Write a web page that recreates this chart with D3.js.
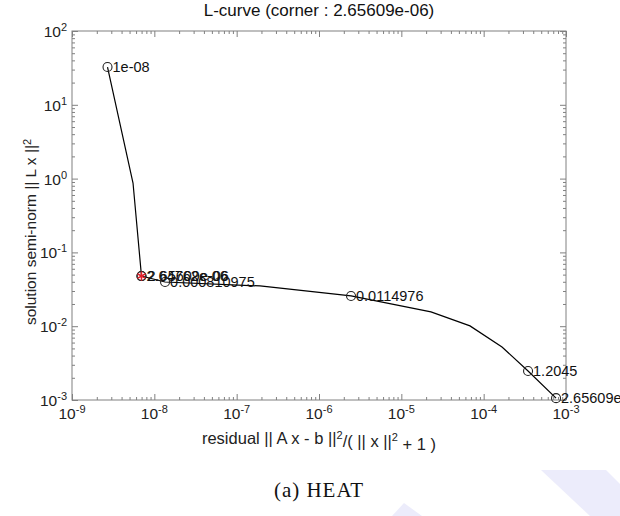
<!DOCTYPE html>
<html>
<head>
<meta charset="utf-8">
<script src="https://cdn.jsdelivr.net/npm/d3@7"></script>
<style>
  body { margin: 0; background: #fff; }
  svg { display: block; }
</style>
</head>
<body>
<script>
// L-curve points (residual vs semi-norm)
var residual = [2.70e-9, 5.51e-9, 6.98e-9, 1.35e-8, 1.92e-7, 2.45e-6, 2.29e-5, 6.82e-5, 1.67e-4, 3.46e-4, 7.57e-4];
var seminorm = [32.5, 0.87, 0.0478, 0.0397, 0.0351, 0.0257, 0.0156, 0.0101, 0.00523, 0.00247, 0.00106];

// which points get a circle + label
var labelIndex = [0, 2, 2, 3, 5, 9, 10];
var labelText = ["1e-08", "2.64762e-06", "2.65609e-06", "0.000810975", "0.0114976", "1.2045", "2.65609e+01"];
var cornerIndex = 2;

var xDecades = [-9, -8, -7, -6, -5, -4, -3];
var yDecades = [-3, -2, -1, 0, 1, 2];

var titleText = "L-curve (corner : 2.65609e-06)";
var captionText = "(a) HEAT";

var width = 620, height = 516;
var mLeft = 72, mRight = 566, mTop = 31, mBottom = 400;
var axisColor = "#808080";
var font = "'Liberation Sans', Arial, sans-serif";

var svg = d3.select("body").append("svg")
  .attr("width", width)
  .attr("height", height);

// faint page background shapes
svg.append("path")
  .attr("d", "M541,470 L606,470 L620,484 L620,516 L590,516 Z")
  .attr("fill", "#ececfb");
svg.append("path")
  .attr("d", "M392,516 L404,503 L422,516 Z")
  .attr("fill", "#ececfb");

var x = d3.scaleLog().domain([1e-9, 1e-3]).range([mLeft, mRight]);
var y = d3.scaleLog().domain([1e-3, 1e2]).range([mBottom, mTop]);

function isDecade(t) { return Math.abs(Math.log10(t) - Math.round(Math.log10(t))) < 1e-6; }
var xMajor = xDecades.map(function(p) { return Math.pow(10, p); });
var yMajor = yDecades.map(function(p) { return Math.pow(10, p); });
var xMinor = x.ticks().filter(function(t) { return !isDecade(t); });
var yMinor = y.ticks().filter(function(t) { return !isDecade(t); });

function tickAxis(axis, transform, size, values) {
  var g = svg.append("g")
    .attr("transform", transform)
    .call(axis.tickValues(values).tickSize(size).tickFormat(""));
  g.select(".domain").remove();
  g.selectAll(".tick line").attr("stroke", axisColor);
  return g;
}

// minor ticks, all four sides
tickAxis(d3.axisBottom(x), "translate(0," + mBottom + ")", -3, xMinor);
tickAxis(d3.axisTop(x), "translate(0," + mTop + ")", -3, xMinor);
tickAxis(d3.axisLeft(y), "translate(" + mLeft + ",0)", -3, yMinor);
tickAxis(d3.axisRight(y), "translate(" + mRight + ",0)", -3, yMinor);
// major ticks
tickAxis(d3.axisBottom(x), "translate(0," + mBottom + ")", -6, xMajor);
tickAxis(d3.axisTop(x), "translate(0," + mTop + ")", -6, xMajor);
tickAxis(d3.axisLeft(y), "translate(" + mLeft + ",0)", -6, yMajor);
tickAxis(d3.axisRight(y), "translate(" + mRight + ",0)", -6, yMajor);

// box
svg.append("rect")
  .attr("x", mLeft).attr("y", mTop)
  .attr("width", mRight - mLeft).attr("height", mBottom - mTop)
  .attr("fill", "none")
  .attr("stroke", axisColor);

// tick labels 10^p
function powerLabel(sel, p) {
  sel.append("tspan").text("10");
  sel.append("tspan").attr("dy", "-0.55em").attr("font-size", "11px").text(p);
}

svg.append("g").selectAll("text").data(xDecades).enter()
  .append("text")
  .attr("x", function(p) { return x(Math.pow(10, p)); })
  .attr("y", mBottom + 19)
  .attr("text-anchor", "middle")
  .attr("font-family", font).attr("font-size", "15.5px").attr("fill", "#222")
  .each(function(p) { powerLabel(d3.select(this), p); });

svg.append("g").selectAll("text").data(yDecades).enter()
  .append("text")
  .attr("x", mLeft - 5)
  .attr("y", function(p) { return y(Math.pow(10, p)) + 6; })
  .attr("text-anchor", "end")
  .attr("font-family", font).attr("font-size", "15.5px").attr("fill", "#222")
  .each(function(p) { powerLabel(d3.select(this), p); });

// title
svg.append("text")
  .attr("x", (mLeft + mRight) / 2).attr("y", 16)
  .attr("text-anchor", "middle")
  .attr("font-family", font).attr("font-size", "17px").attr("fill", "#111")
  .text(titleText);

// x label
var xl = svg.append("text")
  .attr("x", (mLeft + mRight) / 2).attr("y", mBottom + 44)
  .attr("text-anchor", "middle")
  .attr("font-family", font).attr("font-size", "16.5px").attr("fill", "#222");
xl.append("tspan").text("residual || A x - b ||");
xl.append("tspan").attr("dy", "-0.5em").attr("font-size", "11px").text("2");
xl.append("tspan").attr("dy", "0.5em").text("/( || x ||");
xl.append("tspan").attr("dy", "-0.5em").attr("font-size", "11px").text("2");
xl.append("tspan").attr("dy", "0.5em").text(" + 1 )");

// y label
var yl = svg.append("text")
  .attr("transform", "translate(36,232) rotate(-90)")
  .attr("text-anchor", "middle")
  .attr("font-family", font).attr("font-size", "15.5px").attr("fill", "#222");
yl.append("tspan").text("solution semi-norm || L x ||");
yl.append("tspan").attr("dy", "-0.5em").attr("font-size", "11px").text("2");

// curve
var line = d3.line()
  .x(function(i) { return x(residual[i]); })
  .y(function(i) { return y(seminorm[i]); });

svg.append("path")
  .attr("d", line(d3.range(residual.length)))
  .attr("fill", "none")
  .attr("stroke", "#000")
  .attr("stroke-width", 1.2);

// circles + labels
svg.append("g").selectAll("circle").data(labelIndex).enter()
  .append("circle")
  .attr("cx", function(i) { return x(residual[i]); })
  .attr("cy", function(i) { return y(seminorm[i]); })
  .attr("r", 4.5)
  .attr("fill", "none")
  .attr("stroke", "#222")
  .attr("stroke-width", 1.1);

svg.append("g").selectAll("text").data(labelIndex).enter()
  .append("text")
  .attr("x", function(i, k) { return x(residual[i]) + 5 + (k == 2 ? 1 : 0); })
  .attr("y", function(i) { return y(seminorm[i]) + 5; })
  .attr("font-family", font).attr("font-size", "14.5px").attr("fill", "#111")
  .text(function(i, k) { return labelText[k]; });

// corner marker
svg.append("path")
  .attr("d", d3.symbol().type(d3.symbolAsterisk).size(60)())
  .attr("transform", "translate(" + x(residual[cornerIndex]) + "," + y(seminorm[cornerIndex]) + ")")
  .attr("fill", "none")
  .attr("stroke", "#e0202a")
  .attr("stroke-width", 1.5);

// caption
svg.append("text")
  .attr("x", (mLeft + mRight) / 2).attr("y", 497)
  .attr("text-anchor", "middle")
  .attr("font-family", "'Liberation Serif', 'DejaVu Serif', serif")
  .attr("font-size", "21px").attr("letter-spacing", "1px").attr("fill", "#111")
  .text(captionText);
</script>
</body>
</html>
